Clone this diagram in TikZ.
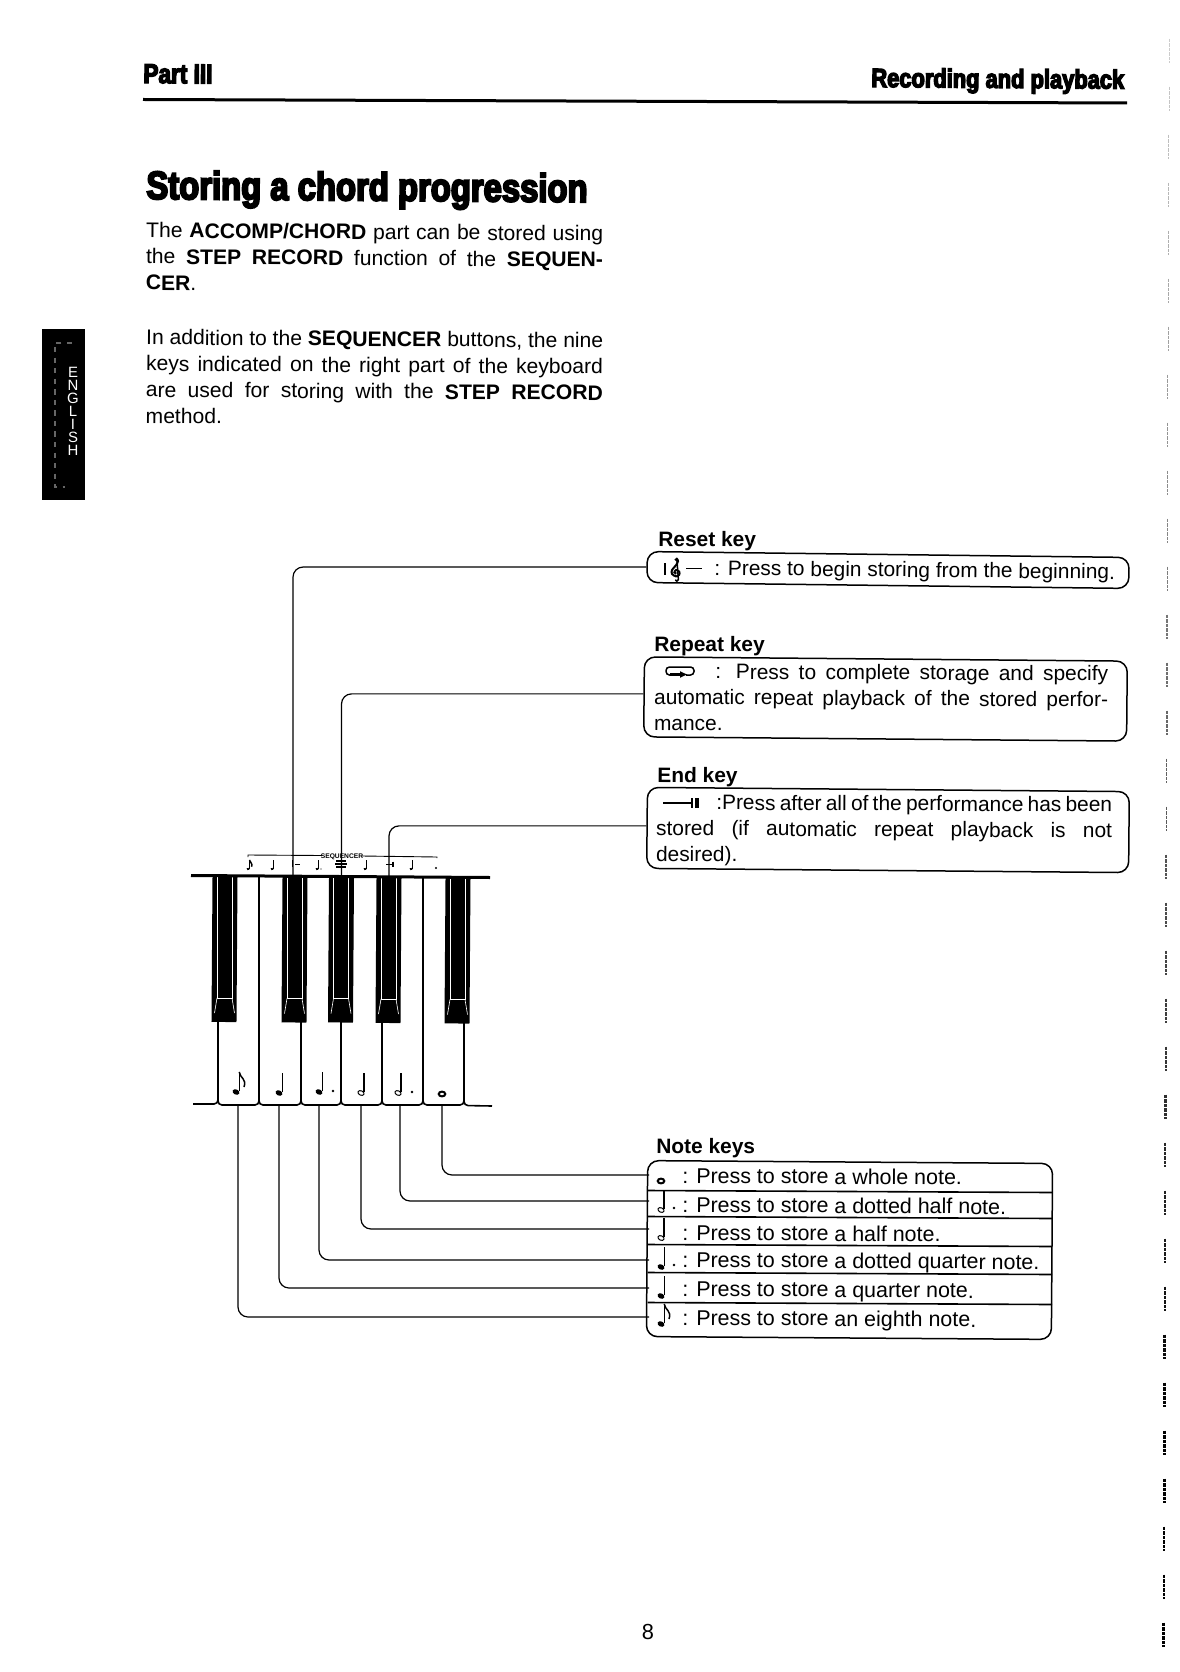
\documentclass[tikz,border=0pt]{standalone}
\usepackage{fontspec}
\setmainfont{Liberation Sans}
\newfontfamily\heavyfont[BoldFeatures={FakeStretch=0.83,FakeBold=5}]{Liberation Sans}
\usetikzlibrary{arrows.meta}
\tikzset{
  bodytext/.style={anchor=north west,inner sep=0pt,text width=9.14cm,align=justify,rotate=-0.4,font=\fontsize{12}{14.9}\selectfont},
  boxtext/.style={anchor=north west,inner sep=0pt,align=justify,rotate=-0.3,font=\fontsize{11.9}{14.7}\selectfont},
  rowtext/.style={anchor=base west,inner sep=0pt,rotate=-0.4,font=\fontsize{12.2}{14.7}\selectfont},
  keytitle/.style={anchor=base west,inner sep=0pt,rotate=-0.4,font=\fontsize{11.9}{14}\selectfont\bfseries},
  heavytext/.style={anchor=base west,inner sep=0pt,rotate=-0.4,font=\heavyfont\bfseries},
  keybox/.style={draw,line width=.03cm,rounded corners=.22cm,inner sep=0pt},
  wire/.style={draw,line width=.024cm,rounded corners=.2cm},
  keyline/.style={line width=.032cm},
  blackkey/.style={fill=black,minimum width=.5cm,minimum height=2.92cm,inner sep=0pt,rotate=-0.4},
  keytrim/.style={white,line width=.012cm},
  wholenote/.pic={\draw[line width=.04cm] (0,0) ellipse [x radius=3.3,y radius=2.4];},
  halfnote/.pic={\draw[line width=.02cm,rotate=-25] (0,0) ellipse [x radius=3.2,y radius=2.2];
    \draw[line width=.024cm] (3,-1)--(3,-20);},
  quarternote/.pic={\fill[rotate=-25] (0,0) ellipse [x radius=3.6,y radius=2.6];
    \draw[line width=.024cm] (3.2,-1)--(3.2,-20);},
  eighthnote/.pic={\fill[rotate=-25] (0,0) ellipse [x radius=3.6,y radius=2.6];
    \draw[line width=.024cm] (3.2,-1)--(3.2,-20);
    \draw[line width=.03cm] (3.2,-20) .. controls (4,-14) and (11,-13) .. (8,-5);},
  notedot/.pic={\fill (0,0) circle [radius=1.4];},
  trebleclef/.pic={\draw[line width=.04cm,smooth] plot coordinates {(0.5,4.5) (-2,3) (0,0) (4,2) (4,6) (0,8) (-5,5) (-5,0) (0,-6) (2.5,-11) (1,-14) (-1,-12)};
    \draw[line width=.03cm] (1,-14)--(3,12) to[out=90,in=0] (1,14) to[out=180,in=60] (-1,12.5);},
}
\begin{document}
\begin{tikzpicture}[x=.02cm,y=-.02cm]
\useasboundingbox (0,0) rectangle (1179,1672);
\coordinate (eighthkey) at (238,1105);
\coordinate (quarterkey) at (279,1105);
\coordinate (dottedquarterkey) at (319,1105);
\coordinate (halfkey) at (361,1105);
\coordinate (dottedhalfkey) at (400,1105);
\coordinate (wholekey) at (442,1106);
\coordinate (wholepin) at (649,1175);
\coordinate (dottedhalfpin) at (649,1201);
\coordinate (halfpin) at (649,1229);
\coordinate (dottedquarterpin) at (649,1260);
\coordinate (quarterpin) at (649,1288);
\coordinate (eighthpin) at (649,1317);
\node[heavytext,font=\heavyfont\bfseries\fontsize{15.5}{18}\selectfont] (partlabel) at (143,83) {Part III};
\node[heavytext,font=\heavyfont\bfseries\fontsize{15}{18}\selectfont] (sectionlabel) at (871,87) {Recording and playback};
\draw[line width=.06cm] (143,99.5)--(1127,103);
\node[heavytext,font=\heavyfont\bfseries\fontsize{22.5}{26}\selectfont] (title) at (146,199) {Storing a chord progression};
\node[bodytext] (introone) at (146,222) {The \textbf{ACCOMP/CHORD} part can be stored using\linebreak the \textbf{STEP RECORD} function of the \textbf{SEQUEN-}\linebreak \textbf{CER}.};
\node[bodytext] (introtwo) at (146,329) {In addition to the \mbox{\textbf{SEQUENCER}} buttons, the nine\linebreak keys indicated on the right part of the keyboard\linebreak are used for storing with the \textbf{STEP RECORD}\linebreak method.};
\fill (42,329) rectangle (85,500);
\draw[black!60,dashed,line width=.03cm] (72,343)--(55,343)--(55,487)--(65,487);
\node[white,inner sep=0pt,align=center,font=\fontsize{8.5}{7.4}\selectfont] (english) at (73,411) {E\\N\\G\\L\\I\\S\\H};
\foreach \k in {0,...,33} {
  \pgfmathsetmacro{\tickshade}{min(100,20+\k*2.8)}
  \pgfmathsetmacro{\tickwidth}{.008+\k*.0015}
  \draw[black!\tickshade,line width=\tickwidth cm,dash pattern=on 2pt off .6pt] (1169-\k*.16,38.6+\k*48)--(1169-\k*.16,62.6+\k*48);
}
\foreach \n/\x/\y in {a/224.5/949,b/294.5/949.5,c/341/949.5,d/388.5/950,e/457.5/950.5} {
  \node[blackkey] (black\n) at (\x,\y) {};
  \draw[keytrim] (\x-7.5,\y-72)--(\x-7.5,\y+49)--(\x+7.5,\y+49)--(\x+7.5,\y-72);
  \draw[keytrim] (\x-7.5,\y+49)--(\x-10,\y+64);
  \draw[keytrim] (\x+7.5,\y+49)--(\x+10,\y+64);
}
\draw[line width=.06cm] (191,875.5)--(490,877.5);
\draw[keyline] (259,877)--(259,1021) (423,878)--(423,1021);
\foreach \a/\b in {218/259,259/301,301/341,341/382,382/423,423/464}
  \draw[keyline,rounded corners=.08cm] (\a,1021)--(\a,1105)--(\b,1105)--(\b,1021);
\draw[keyline,rounded corners=.08cm] (193,1104)--(218,1104)--(218,1090);
\draw[keyline,rounded corners=.08cm] (464,1090)--(464,1105.5)--(492,1106);
\pic at (236,1092) {eighthnote};
\pic at (279,1093) {quarternote};
\pic at (319,1092) {quarternote};
\pic at (333,1091) {notedot};
\pic at (361,1093) {halfnote};
\pic at (398,1093) {halfnote};
\pic at (412,1092) {notedot};
\pic at (442,1094) {wholenote};
\draw[line width=.018cm] (248,857)--(248,855)--(322,855.5) (362,856)--(437,857)--(437,858);
\node[inner sep=0pt,font=\fontsize{3.8}{4}\selectfont\bfseries] (seqlabel) at (342,857) {SEQUENCER};
\pic[scale=.45] at (248,869) {eighthnote};
\pic[scale=.45] at (272,869) {quarternote};
\pic[scale=.45] at (317,869) {quarternote};
\pic[scale=.45] at (321,869) {notedot};
\pic[scale=.45] at (365,869) {quarternote};
\pic[scale=.45] at (411,869) {quarternote};
\pic[scale=.8] at (436,868) {notedot};
\draw[line width=.02cm] (292,860)--(292,867) (295,864)--(300,864);
\draw[line width=.03cm] (335,864)--(347,864) (336,861)--(346,861) (336,867)--(346,867);
\draw[line width=.02cm] (386,864)--(393,864);
\draw[line width=.05cm] (393,861.5)--(393,866.5);
\node[keybox,minimum width=9.64cm,minimum height=.62cm,rotate=-.7] (resetbox) at (888,570) {};
\node[keybox,minimum width=9.66cm,minimum height=1.6cm,rotate=-.5] (repeatbox) at (885.5,699) {};
\node[keybox,minimum width=9.64cm,minimum height=1.62cm,rotate=-.5] (endbox) at (888,830) {};
\node[keybox,minimum width=8.1cm,minimum height=3.52cm,rotate=-.4] (notebox) at (849.5,1250) {};
\draw[wire] (resetbox.west) -| ([xshift=-.04cm]blackb.north);
\draw[wire] ([yshift=.06cm]repeatbox.west) -| (blackc.north);
\draw[wire] ([yshift=.04cm]endbox.west) -| (blackd.north);
\draw[wire] (wholekey) |- (wholepin);
\draw[wire] (dottedhalfkey) |- (dottedhalfpin);
\draw[wire] (halfkey) |- (halfpin);
\draw[wire] (dottedquarterkey) |- (dottedquarterpin);
\draw[wire] (quarterkey) |- (quarterpin);
\draw[wire] (eighthkey) |- (eighthpin);
\node[keytitle] (resettitle) at (658,546) {Reset key};
\node[keytitle] (repeattitle) at (654,651) {Repeat key};
\node[keytitle] (endtitle) at (657,782) {End key};
\node[keytitle] (notetitle) at (656,1153) {Note keys};
\node[rowtext,font=\fontsize{11.9}{14.7}\selectfont,rotate=-.2] (resettext) at (714,575) {: Press to begin storing from the beginning.};
\node[boxtext,text width=9.08cm] (repeattext) at (654,663) {\hspace*{1.22cm}: Press to complete storage and specify\linebreak automatic repeat playback of the stored perfor-\linebreak mance.};
\node[boxtext,text width=9.12cm] (endtext) at (656,794) {\hspace*{1.2cm}:Press after all of the performance has been\linebreak stored (if automatic repeat playback is not\linebreak desired).};
\draw[line width=.024cm] (665,563)--(665,575);
\pic[scale=.8] at (676,570) {trebleclef};
\draw[line width=.024cm] (686,568.5)--(702,568.5);
\draw[line width=.03cm,rounded corners=.07cm] (686,675)--(694,675)--(694,667)--(666,667)--(666,675)--(672,675);
\draw[-{Latex[length=.16cm,width=.14cm]},line width=.05cm] (670,674.5)--(688,674.5);
\draw[line width=.03cm] (663,803)--(692,803) (692,798)--(692,808);
\draw[line width=.07cm] (697,798)--(697,808);
\draw[keyline] (647.5,1190.5)--(1052,1192.5) (647.5,1216.5)--(1052,1218.5) (647.5,1244.5)--(1052,1246.5) (647.5,1272.5)--(1052,1274.5) (647.5,1302.5)--(1052,1304.5);
\node[rowtext] (wholetext) at (682,1183) {: Press to store a whole note.};
\node[rowtext] (dottedhalftext) at (682,1212) {: Press to store a dotted half note.};
\node[rowtext] (halftext) at (682,1240) {: Press to store a half note.};
\node[rowtext] (dottedquartertext) at (682,1267) {: Press to store a dotted quarter note.};
\node[rowtext] (quartertext) at (682,1296) {: Press to store a quarter note.};
\node[rowtext] (eighthtext) at (682,1325) {: Press to store an eighth note.};
\pic at (661,1181) {wholenote};
\pic at (661,1210) {halfnote};
\pic at (674,1208) {notedot};
\pic at (661,1238) {halfnote};
\pic at (661,1267) {quarternote};
\pic at (674,1265) {notedot};
\pic at (661,1296) {quarternote};
\pic at (661,1324) {eighthnote};
\node[inner sep=0pt,font=\fontsize{12.4}{14}\selectfont] (pagenumber) at (648,1632) {8};
\end{tikzpicture}
\end{document}
